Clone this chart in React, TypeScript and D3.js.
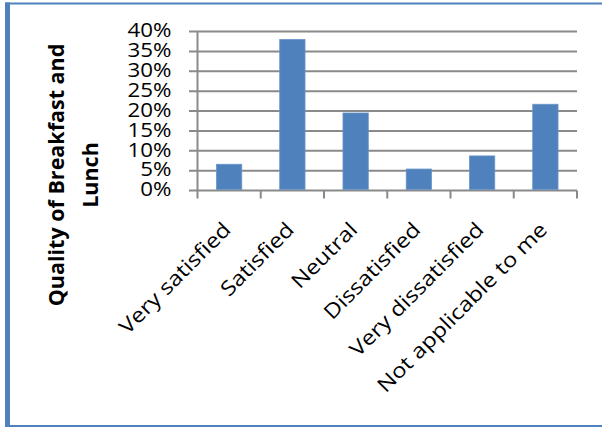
import React from "react";
import * as d3 from "d3";

// Survey responses: share of respondents per answer
const categories = [
  "Very satisfied",
  "Satisfied",
  "Neutral",
  "Dissatisfied",
  "Very dissatisfied",
  "Not applicable to me",
];
const shares = [0.066, 0.38, 0.195, 0.054, 0.087, 0.217];
const yTicks = [0, 0.05, 0.1, 0.15, 0.2, 0.25, 0.3, 0.35, 0.4];
const titleLines = ["Quality of Breakfast and", "Lunch"];

const W = 602;
const H = 427;
const plot = { left: 197.5, right: 577, top: 31.5, bottom: 190.5 };
const FONT = "'Open Sans', 'Noto Sans', sans-serif";
const GRID = "#8a8a8a";
const BLUE = "#4f81bd";

export default function App() {
  const x = d3
    .scaleBand<string>()
    .domain(categories)
    .range([plot.left, plot.right])
    .paddingInner(0.6)
    .paddingOuter(0.3);
  const y = d3.scaleLinear().domain([0, 0.4]).range([plot.bottom, plot.top]);
  const step = x.step();
  const fmt = d3.format(".0%");
  const boundaries = d3.range(categories.length + 1).map((i) => plot.left + i * step);

  return (
    <svg
      width={W}
      height={H}
      style={{ position: "absolute", left: 0, top: 0, display: "block", background: "#fff" }}
    >
      {/* frame */}
      <rect x={5} y={2.5} width={W - 5} height={2} fill={BLUE} />
      <rect x={5} y={2.5} width={5} height={H - 2.5} fill={BLUE} />
      <rect x={5} y={425} width={W - 5} height={2} fill={BLUE} />

      {/* horizontal gridlines with left tick marks */}
      {yTicks.map((t) => (
        <line
          key={"g" + t}
          x1={189}
          x2={plot.right}
          y1={y(t)}
          y2={y(t)}
          stroke={GRID}
          strokeWidth={2}
        />
      ))}
      {/* value axis */}
      <line x1={plot.left} x2={plot.left} y1={plot.top} y2={plot.bottom} stroke={GRID} strokeWidth={2} />
      {/* category tick marks */}
      {boundaries.map((bx, i) => (
        <line key={"t" + i} x1={bx} x2={bx} y1={plot.bottom} y2={plot.bottom + 8} stroke={GRID} strokeWidth={2} />
      ))}

      {/* bars */}
      {categories.map((c, i) => (
        <rect
          key={c}
          x={x(c)}
          y={y(shares[i])}
          width={x.bandwidth()}
          height={y(0) - y(shares[i]) - 1}
          fill={BLUE}
          stroke="#6a95c8"
          strokeWidth={0.8}
        />
      ))}

      {/* value labels */}
      {yTicks.map((t) => (
        <text
          key={"l" + t}
          transform={`translate(171.5, ${y(t) + 5.8}) scale(1.1, 1)`}
          textAnchor="end"
          fontFamily={FONT}
          fontSize={20.3}
          fill="#000"
        >
          {fmt(t)}
        </text>
      ))}

      {/* category labels */}
      {categories.map((c) => (
        <text
          key={"c" + c}
          transform={`translate(${(x(c) as number) + x.bandwidth() / 2 + 3}, 231) rotate(-45) scale(1.16, 1)`}
          textAnchor="end"
          fontFamily={FONT}
          fontSize={20.5}
          fill="#000"
        >
          {c}
        </text>
      ))}

      {/* axis title */}
      {titleLines.map((line, i) => (
        <text
          key={"h" + i}
          transform={`translate(${64 + i * 33.5}, 175) rotate(-90)`}
          textAnchor="middle"
          fontFamily={FONT}
          fontWeight={700}
          fontSize={21.5}
          fill="#000"
        >
          {line}
        </text>
      ))}
    </svg>
  );
}
